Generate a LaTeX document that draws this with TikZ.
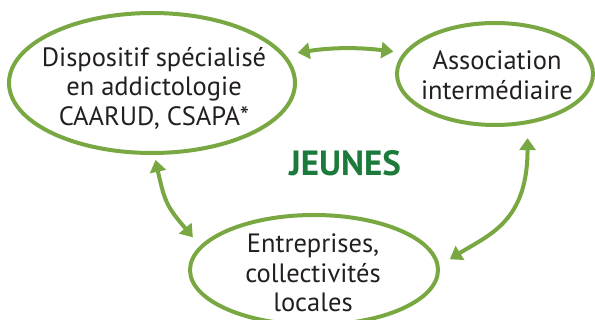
\documentclass[tikz,border=0pt]{standalone}
\usepackage{fontspec}
\setmainfont{PT Sans}
\usepackage{tikz}
\usetikzlibrary{shapes.geometric, arrows.meta, positioning, calc}
\definecolor{ringcolor}{RGB}{121, 168, 67}
\definecolor{youthcolor}{RGB}{28, 122, 59}
\definecolor{inkcolor}{RGB}{35, 31, 32}

\begin{document}
\begin{tikzpicture}[x=1pt, y=1pt,
    ring/.style={draw=ringcolor, line width=4pt, ellipse, inner sep=0pt},
    bubbletext/.style={align=center, text=inkcolor, font=\fontsize{26.5}{29.5}\selectfont},
    link/.style={draw=ringcolor, line width=4pt, {Triangle[length=12pt, width=16pt]}-{Triangle[length=12pt, width=16pt]}}]
    \useasboundingbox (0,0) rectangle (595,-320);

    % Specialised addiction service
    \node[ring, minimum width=286pt, minimum height=140pt] (care) at (152,-83) {};
    \node[bubbletext] (caretext) at (154,-88) {Dispositif spécialisé\\en addictologie\\CAARUD, CSAPA*};

    % Intermediate association
    \node[ring, minimum width=196pt, minimum height=102pt] (assoc) at (495,-74) {};
    \node[bubbletext] (assoctext) at (497,-75) {Association\\intermédiaire};

    % Companies and local authorities
    \node[ring, minimum width=248pt, minimum height=110pt] (firms) at (314,-270) {};
    \node[bubbletext] (firmstext) at (313,-273) {Entreprises,\\collectivités\\locales};

    % Centre word
    \node[font=\bfseries\fontsize{35}{35}\selectfont, text=youthcolor] (youth) at (345,-163) {JEUNES};

    % Two-way links
    \draw[link, shorten <=12.5pt, shorten >=10pt] (care.12) to[bend left=8] (assoc.167);
    \draw[link, shorten <=14pt, shorten >=12pt] (assoc.-57) to[out=-90, in=32, out looseness=1.5, in looseness=0.9] (firms.2);
    \draw[link, shorten <=5pt, shorten >=11pt] (care.-88) to[out=-78, in=130, looseness=1.25] (firms.168);

\end{tikzpicture}
\end{document}
